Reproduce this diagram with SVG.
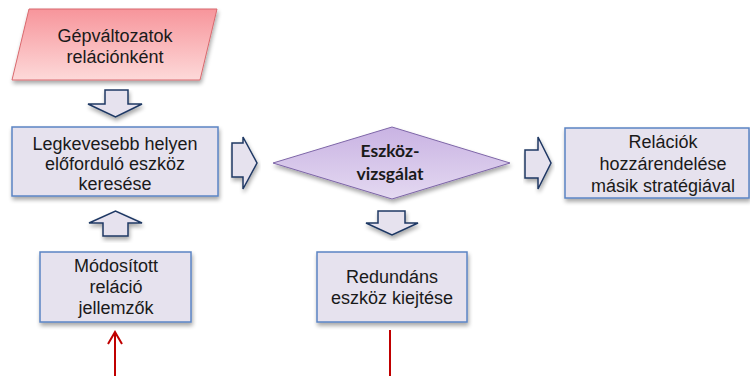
<svg xmlns="http://www.w3.org/2000/svg" width="750" height="376" viewBox="0 0 750 376">
  <defs>
    <linearGradient id="gradInput" x1="0" y1="0" x2="0" y2="1">
      <stop offset="0" stop-color="#F7959B"/>
      <stop offset="1" stop-color="#FDD9D9"/>
    </linearGradient>
    <linearGradient id="gradDecision" x1="0" y1="0" x2="0" y2="1">
      <stop offset="0" stop-color="#C9B3E3"/>
      <stop offset="1" stop-color="#E4D9F1"/>
    </linearGradient>
    <filter id="shadow" x="-10%" y="-10%" width="125%" height="135%">
      <feGaussianBlur in="SourceAlpha" stdDeviation="2"/>
      <feOffset dx="1" dy="3" result="b"/>
      <feComponentTransfer><feFuncA type="linear" slope="0.35"/></feComponentTransfer>
      <feMerge><feMergeNode/><feMergeNode in="SourceGraphic"/></feMerge>
    </filter>
  </defs>
  <style>
    .box { fill: #E6E2EE; stroke: #5B84C4; stroke-width: 1.5; }
    .blk { fill: #E6E2EE; stroke: #1F3864; stroke-width: 1.5; stroke-linejoin: miter; }
    .lbl { font-family: "Liberation Sans", Arial, sans-serif; font-size: 18px; fill: #1a1a1a; text-anchor: middle; }
    .dlbl { font-family: Lato, "Liberation Sans", sans-serif; font-weight: bold; font-size: 17.5px; fill: #1a1a1a; text-anchor: middle; }
    .red { stroke: #C00000; stroke-width: 2; fill: none; }
  </style>

  <rect width="750" height="376" fill="#FFFFFF"/>

  <!-- block arrows and red leads -->
  <g id="connectors">
    <path class="blk" filter="url(#shadow)" d="M105,90 H128 V104 H142 L115.5,117 L88,104 H105 Z"/>
    <path class="blk" filter="url(#shadow)" d="M232,143 H243 V137 L257,163 L243,189 V177 H232 Z"/>
    <path class="blk" filter="url(#shadow)" d="M525,150 H538 V137 L551,163 L538,189 V178 H525 Z"/>
    <path class="blk" filter="url(#shadow)" d="M378,211 H405 V223 H418 L392,235 L366,223 H378 Z"/>
    <path class="blk" filter="url(#shadow)" d="M103,236 H128 V223 H142 L115.5,211 L89,223 H103 Z"/>
    <line class="red" x1="115" y1="376" x2="115" y2="332"/>
    <path class="red" d="M108,344 L115,332 L122,344"/>
    <line class="red" x1="390" y1="330" x2="390" y2="376"/>
  </g>

  <g id="input-variants">
    <path d="M29,9 H217 L200,80 H12 Z" fill="url(#gradInput)" stroke="#D9696E" stroke-width="1" filter="url(#shadow)"/>
    <text class="lbl" x="115" y="42">Gépváltozatok</text>
    <text class="lbl" x="115" y="63">relációnként</text>
  </g>

  <g id="least-frequent-tool">
    <rect class="box" x="12" y="127" width="206" height="69" filter="url(#shadow)"/>
    <text class="lbl" x="115" y="150">Legkevesebb helyen</text>
    <text class="lbl" x="115" y="170">előforduló eszköz</text>
    <text class="lbl" x="115" y="190">keresése</text>
  </g>

  <g id="tool-check">
    <path d="M273,163 L392,127 L510,163 L392,199 Z" fill="url(#gradDecision)" stroke="#7E66A8" stroke-width="1" filter="url(#shadow)"/>
    <text class="dlbl" x="390" y="157">Eszköz-</text>
    <text class="dlbl" x="390" y="180">vizsgálat</text>
  </g>

  <g id="reassign-relations">
    <rect class="box" x="565" y="128" width="184" height="70" filter="url(#shadow)"/>
    <text class="lbl" x="663" y="148">Relációk</text>
    <text class="lbl" x="663" y="170">hozzárendelése</text>
    <text class="lbl" x="663" y="192">másik stratégiával</text>
  </g>

  <g id="modified-attributes">
    <rect class="box" x="40" y="252" width="151" height="70" filter="url(#shadow)"/>
    <text class="lbl" x="116" y="272">Módosított</text>
    <text class="lbl" x="116" y="293">reláció</text>
    <text class="lbl" x="116" y="314">jellemzők</text>
  </g>

  <g id="remove-redundant">
    <rect class="box" x="317" y="252" width="150" height="70" filter="url(#shadow)"/>
    <text class="lbl" x="392" y="283">Redundáns</text>
    <text class="lbl" x="392" y="304">eszköz kiejtése</text>
  </g>
</svg>
